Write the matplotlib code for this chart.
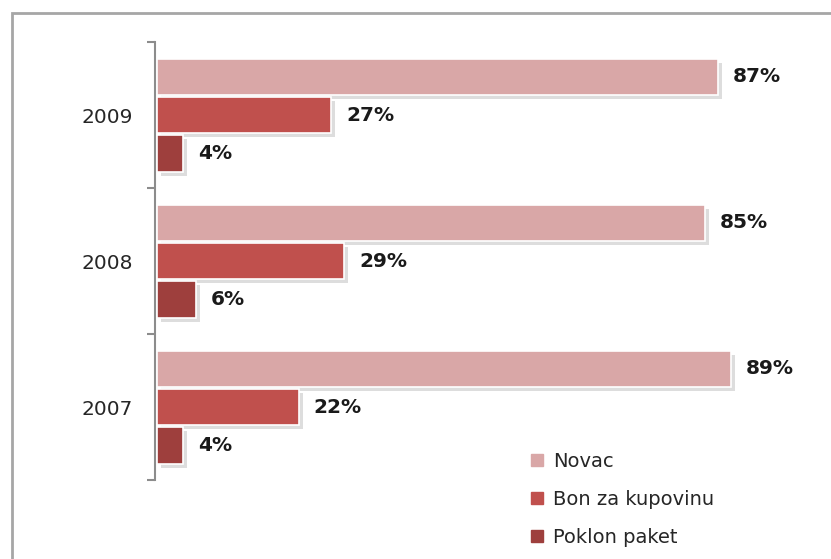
import numpy as np
import matplotlib.pyplot as plt
from matplotlib.patches import Rectangle
import matplotlib.patheffects as pe

# podaci
godine = ['2007', '2008', '2009']
novac = [89, 85, 87]
bon = [22, 29, 27]
poklon = [4, 6, 4]
serije = ['Novac', 'Bon za kupovinu', 'Poklon paket']
boje = ['#D9A7A7', '#C0504D', '#9E3F3D']

fig = plt.figure(figsize=(8.31, 5.59), dpi=100)
ax = fig.add_axes([0.1865, 0.1413, 0.776, 0.7835])

# okvir oko grafikona
fig.patches.append(Rectangle((12 / 831, -0.2), 1.2, 0.2 + (559 - 13) / 559,
                             transform=fig.transFigure, fill=False,
                             edgecolor='#A6A6A6', linewidth=2, zorder=0))

y = np.arange(len(godine))
offset = 0.262
h = 0.25
ombra = [pe.SimplePatchShadow(offset=(3, -3), shadow_rgbFace='#909090', alpha=0.3),
         pe.Normal()]

for vals, dy, col in zip([novac, bon, poklon], [offset, 0, -offset], boje):
    bars = ax.barh(y + dy, vals, height=h, color=col, edgecolor='white',
                   linewidth=1.2, left=0.3)
    for b, v in zip(bars, vals):
        b.set_path_effects(ombra)
        ax.annotate(f'{v}%', xy=(v + 0.3, b.get_y() + h / 2),
                    xytext=(15, 0), textcoords='offset pixels',
                    ha='left', va='center', fontsize=14.5,
                    fontweight='bold', color='#1a1a1a')

ax.set_xlim(0, 100)
ax.set_ylim(-0.5, 2.5)

for s in ['top', 'right', 'bottom']:
    ax.spines[s].set_visible(False)
ax.spines['left'].set_color('#8C8C8C')
ax.spines['left'].set_linewidth(1.5)

ax.set_xticks([])
ax.set_yticks(y)
ax.set_yticklabels(godine, fontsize=14.5, color='#262626')
ax.tick_params(axis='y', which='major', length=0, pad=16)
ax.set_yticks([-0.5, 0.5, 1.5, 2.5], minor=True)
ax.tick_params(axis='y', which='minor', length=6, width=1.5, color='#8C8C8C')

handles = [Rectangle((0, 0), 1, 1, color=c) for c in boje]
fig.legend(handles, serije, loc='lower left', bbox_to_anchor=(0.618, -0.01),
           frameon=False, fontsize=14, handlelength=0.6, handleheight=0.6,
           handletextpad=0.55, labelspacing=0.98, labelcolor='#262626')

fig.savefig('out.png', dpi=100)
